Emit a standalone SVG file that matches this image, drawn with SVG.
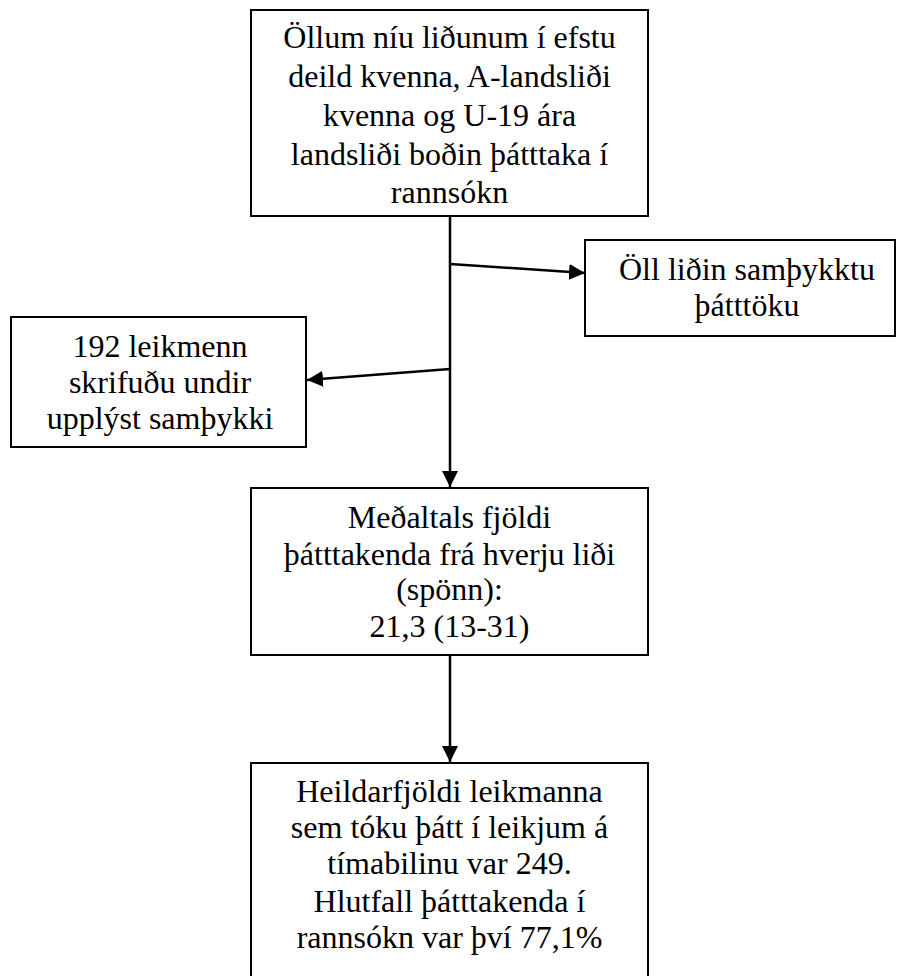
<svg xmlns="http://www.w3.org/2000/svg" width="897" height="976" viewBox="0 0 897 976">
<style>
.box{fill:#fff;stroke:#000;stroke-width:2}
.t{font-family:'Liberation Serif','Times New Roman',serif;font-size:32px;fill:#000;text-anchor:middle}
.c{stroke:#000;stroke-width:2.5;fill:none}
</style>
<defs>
<marker id="ah" markerUnits="userSpaceOnUse" markerWidth="16" markerHeight="16" viewBox="0 0 16 16" refX="16" refY="8" orient="auto">
<path d="M0,0 L16,8 L0,16 Z" fill="#000"/>
</marker>
</defs>
<rect width="897" height="976" fill="#fff"/>
<g id="connectors">
<line class="c" x1="450" y1="216" x2="450" y2="487" marker-end="url(#ah)"/>
<line class="c" x1="450" y1="264" x2="585" y2="273" marker-end="url(#ah)"/>
<line class="c" x1="450" y1="369" x2="307" y2="380" marker-end="url(#ah)"/>
<line class="c" x1="450" y1="655" x2="450" y2="762" marker-end="url(#ah)"/>
</g>
<g id="n1">
<rect class="box" x="251" y="10" width="397" height="206"/>
<text class="t" x="449.5" y="48">Öllum níu liðunum í efstu</text>
<text class="t" x="449.5" y="87">deild kvenna, A-landsliði</text>
<text class="t" x="449.5" y="126">kvenna og U-19 ára</text>
<text class="t" x="449.5" y="165">landsliði boðin þátttaka í</text>
<text class="t" x="449.5" y="203">rannsókn</text>
</g>
<g id="n2">
<rect class="box" x="585" y="240" width="310" height="96"/>
<text class="t" x="747" y="280">Öll liðin samþykktu</text>
<text class="t" x="747" y="316">þátttöku</text>
</g>
<g id="n3">
<rect class="box" x="11" y="317" width="295" height="130"/>
<text class="t" x="160" y="357">192 leikmenn</text>
<text class="t" x="160" y="393">skrifuðu undir</text>
<text class="t" x="160" y="429">upplýst samþykki</text>
</g>
<g id="n4">
<rect class="box" x="251" y="488" width="397" height="167"/>
<text class="t" x="449.5" y="528">Meðaltals fjöldi</text>
<text class="t" x="449.5" y="565">þátttakenda frá hverju liði</text>
<text class="t" x="449.5" y="600">(spönn):</text>
<text class="t" x="449.5" y="637">21,3 (13-31)</text>
</g>
<g id="n5">
<rect class="box" x="251" y="763" width="397" height="230"/>
<text class="t" x="449.5" y="802">Heildarfjöldi leikmanna</text>
<text class="t" x="449.5" y="838">sem tóku þátt í leikjum á</text>
<text class="t" x="449.5" y="874">tímabilinu var 249.</text>
<text class="t" x="449.5" y="912">Hlutfall þátttakenda í</text>
<text class="t" x="449.5" y="948">rannsókn var því 77,1%</text>
</g>
</svg>
